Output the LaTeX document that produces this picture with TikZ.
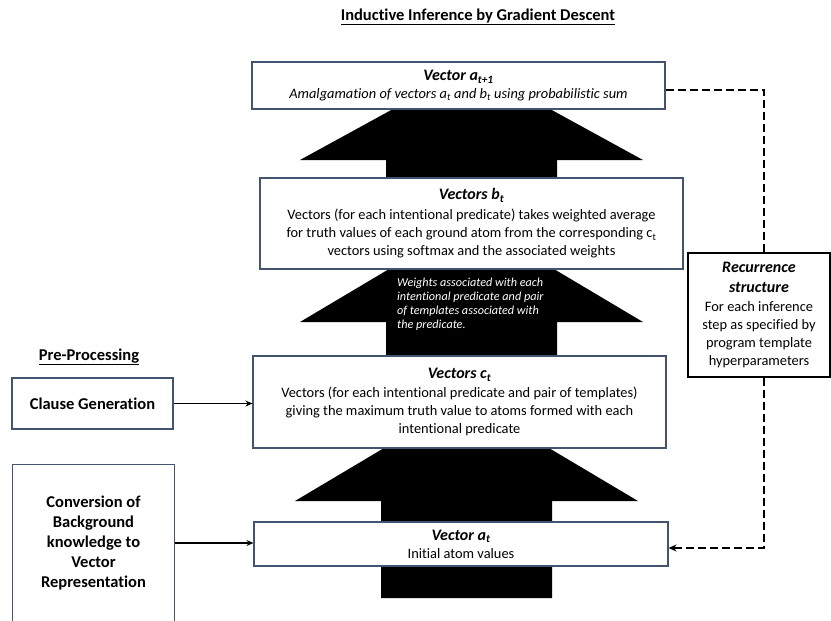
\documentclass[tikz,border=0pt]{standalone}
\usepackage{fontspec}
\setmainfont[Ligatures=NoCommon]{Carlito}
\usetikzlibrary{arrows.meta,calc}
\definecolor{boxblue}{HTML}{44536E}
\newcommand{\boxhead}[1]{{\fontsize{16}{18}\selectfont\bfseries\itshape #1}}
\begin{document}
\begin{tikzpicture}[x=1pt,y=-1pt,
  box/.style={draw=boxblue,line width=1.1pt,fill=white,inner sep=0pt,align=center,font=\fontsize{14.4}{18}\selectfont},
  recbox/.style={box,draw=black},
  leftbox/.style={box,font=\fontsize{16.5}{20}\selectfont\bfseries},
  blockarrow/.style={fill=black,draw=none},
  solidarrow/.style={line width=1.6pt,-{Stealth[length=7pt,width=6pt]}},
  recline/.style={line width=2.5pt,dash pattern=on 8pt off 4pt},
  headtext/.style={font=\fontsize{16.5}{20}\selectfont\bfseries,inner sep=0pt},
]
\useasboundingbox (0,0) rectangle (831,621);

% block arrows
\fill[blockarrow] (386,190) -- (386,160) -- (300,160) -- (471.5,66) -- (643,160) -- (557,160) -- (557,190) -- cycle;
\fill[blockarrow] (386,360) -- (386,322) -- (300,322) -- (471.5,220) -- (643,322) -- (557,322) -- (557,360) -- cycle;
\fill[blockarrow] (381,598) -- (381,501) -- (295,501) -- (466.5,399) -- (638,501) -- (552,501) -- (552,598) -- cycle;

% titles
\node[headtext] (title) at (478,17) {\underline{Inductive Inference by Gradient Descent}};
\node[headtext] (pre) at (89,357) {\underline{Pre-Processing}};

% main boxes
\node[box,minimum width=413pt,minimum height=47pt] (aT1) at (458.5,85.5)
  {\boxhead{Vector a\textsubscript{t+1}}\\
   \textit{Amalgamation of vectors a\textsubscript{t} and b\textsubscript{t} using probabilistic sum}};
\node[box,minimum width=423pt,minimum height=91pt] (bT) at (471.5,223.5)
  {\boxhead{Vectors b\textsubscript{t}}\\[2pt]
   Vectors (for each intentional predicate) takes weighted average\\
   for truth values of each ground atom from the corresponding c\textsubscript{t}\\
   vectors using softmax and the associated weights};
\node[box,minimum width=413pt,minimum height=92pt] (cT) at (459.5,402)
  {\boxhead{Vectors c\textsubscript{t}}\\[1pt]
   Vectors (for each intentional predicate and pair of templates)\\
   giving the maximum truth value to atoms formed with each\\
   intentional predicate};
\node[box,minimum width=414pt,minimum height=44pt] (aT) at (461,544)
  {\boxhead{Vector a\textsubscript{t}}\\
   Initial atom values};

% white text inside arrow
\node[anchor=north west,text=white,font=\fontsize{12.2}{14}\selectfont\itshape,align=left,inner sep=0pt] (wtext) at (397,278)
  {Weights associated with each\\intentional predicate and pair\\of templates associated with\\the predicate.};

% recurrence box
\node[recbox,minimum width=142pt,minimum height=124pt] (rec) at (759,315)
  {\boxhead{Recurrence}\\[2pt]
   \boxhead{structure}\\[1pt]
   For each inference\\
   step as specified by\\
   program template\\
   hyperparameters};

% left boxes
\node[leftbox,minimum width=161pt,minimum height=51pt] (clause) at (92.5,403.5) {Clause Generation};
\node[leftbox,draw=none,fill=none,minimum width=161pt,minimum height=156pt] (conv) at (93.5,543)
  {Conversion of\\Background\\knowledge to\\Vector\\Representation};
\draw[boxblue,line width=1.1pt] (conv.south west) -- (conv.north west) -- (conv.north east) -- (conv.south east);

% connectors
\draw[solidarrow] (clause.east) -- (clause.east -| cT.west);
\draw[solidarrow] (conv.east) -- (conv.east -| aT.west);

\coordinate (d1) at (764,90);
\coordinate (d2) at (764,548);
\draw[recline] (aT1.east |- d1) -- (d1) -- (rec.north -| d1);
\draw[recline,-{Stealth[length=8pt,width=7pt]}] (rec.south -| d1) -- (d2) -- (aT.east |- d2);
\end{tikzpicture}
\end{document}
